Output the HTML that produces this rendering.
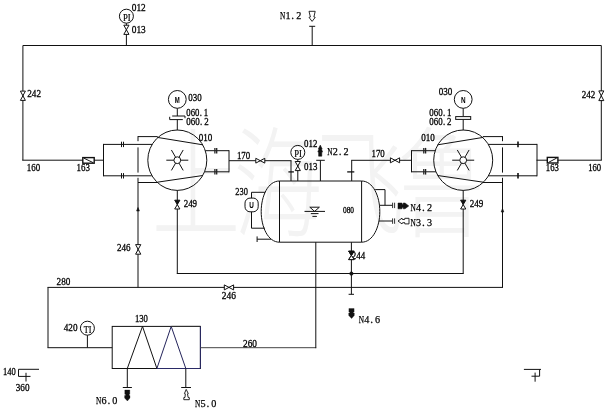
<!DOCTYPE html>
<html lang="zh"><head><meta charset="utf-8"><title>P&amp;ID</title>
<style>
html,body{margin:0;padding:0;background:#fff;}
body{width:610px;height:411px;overflow:hidden;position:relative;}
svg{position:absolute;left:0;top:0;display:block;will-change:transform;}
.wm{font-family:"Liberation Sans","Noto Sans CJK SC",sans-serif;fill:#f3f3f3;}
.t{font-family:"Liberation Serif",serif;fill:#000;stroke:#000;stroke-width:0.28;}
.n{font-family:"Liberation Serif",serif;fill:#000;stroke:#000;stroke-width:0.25;}
.i{font-family:"Liberation Serif",serif;fill:#000;stroke:#000;stroke-width:0.2;}
</style></head><body>
<svg width="610" height="411" viewBox="0 0 610 411">
<g class="wm"><text x="151.5" y="0" font-size="89" font-weight="300" textLength="335" lengthAdjust="spacing" transform="translate(0,227.8) scale(1,1.35)">上海飞鲁</text></g>
<g fill="none" stroke="#111" stroke-width="1" stroke-linecap="butt" stroke-linejoin="miter">
<line x1="22.9" y1="45.5" x2="601.3" y2="45.5"/>
<line x1="22.9" y1="45.5" x2="22.9" y2="160.2"/>
<polygon points="20.4,91.1 25.4,91.1 22.9,95.75" fill="#fff"/>
<polygon points="20.4,100.4 25.4,100.4 22.9,95.75" fill="#fff"/>
<line x1="22.2" y1="160.2" x2="103.6" y2="160.2"/>
<rect x="82.8" y="157.6" width="11.4" height="5.6" fill="#fff" stroke-width="1.4"/>
<line x1="84" y1="158.2" x2="93" y2="162.6"/>
<line x1="601.3" y1="45.5" x2="601.3" y2="160.2"/>
<polygon points="598.8,90.9 603.8,90.9 601.3,95.75" fill="#fff"/>
<polygon points="598.8,100.6 603.8,100.6 601.3,95.75" fill="#fff"/>
<line x1="601.8" y1="160.2" x2="536.5" y2="160.2"/>
<rect x="547.3" y="157.4" width="10.6" height="5.6" fill="#fff" stroke-width="1.4"/>
<line x1="548.5" y1="162.4" x2="556.8" y2="158"/>
<circle cx="126.4" cy="16.2" r="7" fill="none"/>
<line x1="126.4" y1="23.2" x2="126.4" y2="45.5"/>
<polygon points="123.80000000000001,25.2 129.0,25.2 126.4,29.799999999999997" fill="#fff"/>
<polygon points="123.80000000000001,34.4 129.0,34.4 126.4,29.799999999999997" fill="#fff"/>
<line x1="312.2" y1="26.3" x2="312.2" y2="45.5"/>
<line x1="309.2" y1="26.3" x2="315.2" y2="26.3"/>
<path d="M309,11.3 H315.2 L313.9,17 L315.2,17.4 L312.1,21.4 L309,17.4 L310.4,17 Z" fill="none" stroke-width="0.9"/>
<ellipse cx="177.3" cy="160.2" rx="29.5" ry="30.2"/>
<circle cx="177.3" cy="160.2" r="3.4" fill="none"/>
<line x1="180.7" y1="160.2" x2="188.3" y2="160.2"/>
<line x1="179.0" y1="163.14" x2="183.2" y2="170.42"/>
<line x1="175.6" y1="163.14" x2="171.4" y2="170.42"/>
<line x1="173.9" y1="160.2" x2="166.3" y2="160.2"/>
<line x1="175.6" y1="157.26" x2="171.4" y2="149.98"/>
<line x1="179.0" y1="157.26" x2="183.2" y2="149.98"/>
<line x1="157.3" y1="137.4" x2="202.8" y2="144.8"/>
<line x1="157.3" y1="182.2" x2="202.8" y2="175.5"/>
<line x1="157.7" y1="136.6" x2="138.0" y2="136.6"/>
<line x1="157.7" y1="182.5" x2="138.0" y2="182.5"/>
<line x1="138.0" y1="136.1" x2="138.0" y2="141.2"/>
<line x1="138.0" y1="147.4" x2="138.0" y2="172.6"/>
<line x1="152.3" y1="144.4" x2="103.5" y2="144.4"/>
<line x1="151.8" y1="175.8" x2="103.5" y2="175.8"/>
<line x1="103.5" y1="143.9" x2="103.5" y2="176.3"/>
<circle cx="177.3" cy="99.4" r="8.9" fill="none"/>
<line x1="177.3" y1="108.3" x2="177.3" y2="116"/>
<line x1="177.3" y1="119.6" x2="177.3" y2="130.2"/>
<line x1="205.3" y1="150.7" x2="229.0" y2="150.7"/>
<line x1="204.5" y1="171.8" x2="229.0" y2="171.8"/>
<line x1="229.0" y1="150.2" x2="229.0" y2="172.3"/>
<line x1="214.9" y1="147.89999999999998" x2="214.9" y2="153.5" stroke="#222" stroke-width="1.3"/>
<line x1="216.7" y1="147.89999999999998" x2="216.7" y2="153.5" stroke="#222" stroke-width="1.3"/>
<line x1="214.9" y1="169.0" x2="214.9" y2="174.60000000000002" stroke="#222" stroke-width="1.3"/>
<line x1="216.7" y1="169.0" x2="216.7" y2="174.60000000000002" stroke="#222" stroke-width="1.3"/>
<line x1="177.3" y1="190.3" x2="177.3" y2="273.5"/>
<polygon points="174.70000000000002,200.2 179.9,200.2 177.3,204.6" fill="#111"/>
<polygon points="174.70000000000002,209 179.9,209 177.3,204.6" fill="#fff"/>
<ellipse cx="463.2" cy="160.2" rx="29.5" ry="30.2"/>
<circle cx="463.2" cy="160.2" r="3.4" fill="none"/>
<line x1="466.6" y1="160.2" x2="474.2" y2="160.2"/>
<line x1="464.9" y1="163.14" x2="469.1" y2="170.42"/>
<line x1="461.5" y1="163.14" x2="457.3" y2="170.42"/>
<line x1="459.8" y1="160.2" x2="452.2" y2="160.2"/>
<line x1="461.5" y1="157.26" x2="457.3" y2="149.98"/>
<line x1="464.9" y1="157.26" x2="469.1" y2="149.98"/>
<line x1="483.2" y1="137.4" x2="437.7" y2="144.8"/>
<line x1="483.2" y1="182.2" x2="437.7" y2="175.5"/>
<line x1="482.8" y1="136.6" x2="502.5" y2="136.6"/>
<line x1="482.8" y1="182.5" x2="502.5" y2="182.5"/>
<line x1="502.5" y1="136.1" x2="502.5" y2="141.2"/>
<line x1="502.5" y1="147.4" x2="502.5" y2="172.6"/>
<line x1="488.2" y1="144.4" x2="537.0" y2="144.4"/>
<line x1="488.7" y1="175.8" x2="537.0" y2="175.8"/>
<line x1="537.0" y1="143.9" x2="537.0" y2="176.3"/>
<circle cx="463.2" cy="99.4" r="8.9" fill="none"/>
<line x1="463.2" y1="108.3" x2="463.2" y2="116"/>
<line x1="463.2" y1="119.6" x2="463.2" y2="130.2"/>
<line x1="435.2" y1="150.7" x2="411.5" y2="150.7"/>
<line x1="436.0" y1="171.8" x2="411.5" y2="171.8"/>
<line x1="411.5" y1="150.2" x2="411.5" y2="172.3"/>
<line x1="425.6" y1="147.89999999999998" x2="425.6" y2="153.5" stroke="#222" stroke-width="1.3"/>
<line x1="423.8" y1="147.89999999999998" x2="423.8" y2="153.5" stroke="#222" stroke-width="1.3"/>
<line x1="425.6" y1="169.0" x2="425.6" y2="174.60000000000002" stroke="#222" stroke-width="1.3"/>
<line x1="423.8" y1="169.0" x2="423.8" y2="174.60000000000002" stroke="#222" stroke-width="1.3"/>
<line x1="463.2" y1="190.3" x2="463.2" y2="273.5"/>
<polygon points="460.59999999999997,200.2 465.8,200.2 463.2,204.6" fill="#111"/>
<polygon points="460.59999999999997,209 465.8,209 463.2,204.6" fill="#fff"/>
<line x1="121.5" y1="141.70000000000002" x2="121.5" y2="147.1"/>
<line x1="123.5" y1="141.70000000000002" x2="123.5" y2="147.1"/>
<line x1="121.5" y1="173.10000000000002" x2="121.5" y2="178.5"/>
<line x1="123.5" y1="173.10000000000002" x2="123.5" y2="178.5"/>
<line x1="518" y1="141.6" x2="518" y2="147.20000000000002" stroke-width="1.6"/>
<line x1="518" y1="173.0" x2="518" y2="178.60000000000002" stroke-width="1.6"/>
<polyline points="172.2,116 185,116 185,118.2" fill="none"/>
<polyline points="169.7,116.8 169.7,119.6 182.8,119.6" fill="none"/>
<rect x="455.7" y="116.6" width="15" height="2.8" fill="#fff"/>
<line x1="138" y1="177.8" x2="138" y2="287.4"/>
<polygon points="135.6,244.6 140.79999999999998,244.6 138.2,249.39999999999998" fill="#fff"/>
<polygon points="135.6,254.2 140.79999999999998,254.2 138.2,249.39999999999998" fill="#fff"/>
<polygon points="138,207.5 136.6,211 139.4,211" fill="#111" stroke-width="0.6"/>
<line x1="502.5" y1="177.8" x2="502.5" y2="287.4"/>
<polygon points="502.5,208.5 501.2,212 503.8,212" fill="#111" stroke-width="0.6"/>
<line x1="176.8" y1="273.5" x2="463.7" y2="273.5"/>
<line x1="47.5" y1="287.4" x2="503" y2="287.4"/>
<polygon points="224.3,284.9 224.3,289.9 228.95,287.4" fill="#fff"/>
<polygon points="233.6,284.9 233.6,289.9 228.95,287.4" fill="#fff"/>
<line x1="48" y1="287.4" x2="48" y2="347.7"/>
<line x1="47.5" y1="347.7" x2="112.2" y2="347.7"/>
<circle cx="87.4" cy="328.2" r="7" fill="none"/>
<line x1="87.4" y1="335.2" x2="87.4" y2="347.7"/>
<rect x="112.2" y="326.4" width="88.2" height="42.1" fill="none"/>
<polyline points="127.3,368.5 142.5,326.4 156.9,368.5" fill="none"/>
<polyline points="156.9,368.5 171.2,326.4 185.8,368.5" fill="none" stroke="#23235a"/>
<line x1="200.4" y1="326.4" x2="200.4" y2="368.5" stroke="#2a2a66"/>
<line x1="156.9" y1="368.5" x2="200.4" y2="368.5" stroke="#2a2a66"/>
<line x1="171.2" y1="326.4" x2="200.4" y2="326.4" stroke="#333"/>
<line x1="127.3" y1="368.5" x2="127.3" y2="387.5"/>
<line x1="122.8" y1="387.5" x2="131.9" y2="387.5"/>
<line x1="185.8" y1="368.5" x2="185.8" y2="387.5"/>
<line x1="181.2" y1="387.5" x2="191" y2="387.5"/>
<path d="M124.8,390 H129.8 V394.3 H129 V395.6 H130 V398 L127.4,401 L124.6,398 V395.6 H125.6 V394.3 H124.8 Z" fill="#111" stroke-width="0.3"/>
<path d="M186.2,389.4 L188.3,393.6 L187.5,393.8 L188.1,397.4 L189.3,397.6 L189.3,399.7 H183.8 L183.8,397.6 L185,397.4 L185.3,393.8 L184.4,393.6 Z" fill="none" stroke-width="0.9"/>
<line x1="200.4" y1="347.7" x2="316.2" y2="347.7" stroke="#444"/>
<line x1="315.8" y1="242.2" x2="315.8" y2="348.2"/>
<line x1="279.5" y1="181" x2="361.6" y2="181"/>
<line x1="279.5" y1="242.2" x2="361.6" y2="242.2"/>
<line x1="279.5" y1="181" x2="279.5" y2="242.2"/>
<line x1="361.6" y1="181" x2="361.6" y2="242.2"/>
<path d="M279.5,181 C268,181 261.2,196 261.2,211.6 C261.2,227 268,242.2 279.5,242.2" fill="none"/>
<path d="M361.6,181 C373,181 379.8,196 379.8,211.6 C379.8,227 373,242.2 361.6,242.2" fill="none"/>
<polyline points="265.3,192.3 251.5,192.3 251.5,198" fill="none"/>
<polyline points="251.5,211.8 251.5,228.2 264.8,228.2" fill="none"/>
<rect x="245" y="198.1" width="13.2" height="13.7" rx="5" ry="5" fill="#fff"/>
<line x1="257.1" y1="239.2" x2="271" y2="239.2"/>
<line x1="257.1" y1="236.4" x2="257.1" y2="242"/>
<polygon points="309.8,207.2 319.4,207.2 314.6,211.4" fill="none"/>
<line x1="304.5" y1="211.4" x2="325" y2="211.4"/>
<line x1="310.8" y1="213.6" x2="318.5" y2="213.6"/>
<line x1="312.4" y1="216.4" x2="316.9" y2="216.4"/>
<line x1="229" y1="160.7" x2="291.5" y2="160.7"/>
<line x1="291" y1="160.7" x2="291" y2="181"/>
<line x1="288.4" y1="171.9" x2="293.9" y2="171.9" stroke-width="1.3"/>
<polygon points="255.8,158.29999999999998 255.8,163.1 260.3,160.7" fill="#fff"/>
<polygon points="264.8,158.29999999999998 264.8,163.1 260.3,160.7" fill="#fff"/>
<circle cx="297.8" cy="152.4" r="7" fill="none"/>
<line x1="297.8" y1="159.4" x2="297.8" y2="181"/>
<polygon points="295.2,161.5 300.40000000000003,161.5 297.8,166.05" fill="#fff"/>
<polygon points="295.2,170.6 300.40000000000003,170.6 297.8,166.05" fill="#fff"/>
<line x1="320.4" y1="160.3" x2="320.4" y2="181"/>
<line x1="316.2" y1="160.3" x2="324.8" y2="160.3"/>
<path d="M320.3,145 L322.2,149 L321.6,149.2 L322.6,152 L321.8,152.2 V156.2 H318.6 V152.2 L317.8,152 L318.9,149.2 L318.3,149 Z" fill="#111" stroke-width="0.5"/>
<line x1="351.7" y1="181" x2="351.7" y2="160.3"/>
<line x1="351.2" y1="160.3" x2="411.4" y2="160.3"/>
<line x1="347.2" y1="171.9" x2="354.3" y2="171.9" stroke-width="1.3"/>
<polygon points="390.4,157.8 390.4,162.8 395.0,160.3" fill="#fff"/>
<polygon points="399.6,157.8 399.6,162.8 395.0,160.3" fill="#fff"/>
<polyline points="375.2,189.6 385,189.6 385,205.3" fill="none"/>
<line x1="379.5" y1="205.3" x2="393" y2="205.3"/>
<line x1="379" y1="221" x2="393" y2="221"/>
<line x1="392.6" y1="202.70000000000002" x2="392.6" y2="208.10000000000002" stroke="#333"/>
<line x1="394.6" y1="202.70000000000002" x2="394.6" y2="208.10000000000002" stroke="#333"/>
<line x1="392.6" y1="218.4" x2="392.6" y2="223.8" stroke="#333"/>
<line x1="394.6" y1="218.4" x2="394.6" y2="223.8" stroke="#333"/>
<path d="M398,203 H402 V204.2 H403.2 V203 H405 L408.8,205.9 L405,208.8 H403.2 V207.6 H402 V208.8 H398 Z" fill="#111" stroke-width="0.5"/>
<path d="M398,221 L402,218.2 L402.3,219.4 L404.6,219.6 L404.8,218.3 H409 V223.9 H404.8 L404.6,222.5 L402.3,222.9 L402,223.9 Z" fill="none" stroke-width="0.9"/>
<line x1="351.4" y1="242.2" x2="351.4" y2="294.3"/>
<polygon points="348.65,251.2 354.15,251.2 351.4,255.4" fill="#111"/>
<polygon points="348.65,259.6 354.15,259.6 351.4,255.4" fill="#fff"/>
<circle cx="351.4" cy="273.6" r="1.6" fill="#111"/>
<line x1="348.6" y1="294.3" x2="354" y2="294.3"/>
<path d="M348.9,308.5 H354.1 V312 H353.3 V313 H354.3 V315.4 L351.6,318.6 L348.7,315.4 V313 H349.7 V312 H348.9 Z" fill="#111" stroke-width="0.3"/>
<polyline points="39,369.3 18.5,369.3 18.5,376.4 30.5,376.4" fill="none"/>
<line x1="26" y1="372.8" x2="26" y2="381.5"/>
<polyline points="523.9,369.4 541,369.4" fill="none"/>
<polyline points="539.6,369.4 539.6,376.2 531.5,376.2" fill="none"/>
<line x1="535.1" y1="372.6" x2="535.1" y2="381.7"/>
<text class="t" transform="translate(131.8,11.4) scale(0.933,1)" x="0 5 10" y="0" font-size="10">012</text>
<text class="t" transform="translate(131.8,32.6) scale(0.933,1)" x="0 5 10" y="0" font-size="10">013</text>
<text class="t" transform="translate(27.2,96.9) scale(0.92,1)" x="0 5 10" y="0" font-size="10">242</text>
<text class="t" transform="translate(26.8,171.1) scale(0.893,1)" x="0 5 10" y="0" font-size="10">160</text>
<text class="t" transform="translate(76.5,171.1) scale(0.893,1)" x="0 5 10" y="0" font-size="10">163</text>
<text class="t" transform="translate(188.3,101.2) scale(0.893,1)" x="0 5 10" y="0" font-size="10">030</text>
<text class="t" transform="translate(186.3,116.3) scale(0.872,1)" x="0 5 10 15.4 20" y="0" font-size="10">060.1</text>
<text class="t" transform="translate(186.3,124.7) scale(0.896,1)" x="0 5 10 15.4 20" y="0" font-size="10">060.2</text>
<text class="t" transform="translate(198.7,140.6) scale(0.907,1)" x="0 5 10" y="0" font-size="10">010</text>
<text class="t" transform="translate(183.7,207.4) scale(0.893,1)" x="0 5 10" y="0" font-size="10">249</text>
<text class="t" transform="translate(117,250.8) scale(0.907,1)" x="0 5 10" y="0" font-size="10">246</text>
<text class="t" transform="translate(56.6,284.7) scale(0.92,1)" x="0 5 10" y="0" font-size="10">280</text>
<text class="t" transform="translate(63.7,330.5) scale(0.92,1)" x="0 5 10" y="0" font-size="10">420</text>
<text class="t" transform="translate(3,374.7) scale(0.853,1)" x="0 5 10" y="0" font-size="10">140</text>
<text class="t" transform="translate(15.7,391.4) scale(0.92,1)" x="0 5 10" y="0" font-size="10">360</text>
<text class="t" transform="translate(134.9,322.1) scale(0.867,1)" x="0 5 10" y="0" font-size="10">130</text>
<text class="t" transform="translate(221.8,298.7) scale(0.947,1)" x="0 5 10" y="0" font-size="10">246</text>
<text class="t" transform="translate(243,346.6) scale(0.933,1)" x="0 5 10" y="0" font-size="10">260</text>
<text class="t" transform="translate(235.3,195.4) scale(0.84,1)" x="0 5 10" y="0" font-size="10">230</text>
<text class="t" transform="translate(236.9,158.6) scale(0.887,1)" x="0 5 10" y="0" font-size="10">170</text>
<text class="t" transform="translate(304.1,147.1) scale(0.887,1)" x="0 5 10" y="0" font-size="10">012</text>
<text class="t" transform="translate(304.1,169.5) scale(0.887,1)" x="0 5 10" y="0" font-size="10">013</text>
<text class="t" transform="translate(371.5,157) scale(0.887,1)" x="0 5 10" y="0" font-size="10">170</text>
<text class="t" transform="translate(343,213.1) scale(0.917,1)" x="0 4 8" y="0" font-size="8">080</text>
<text class="t" transform="translate(351.8,258.7) scale(0.893,1)" x="0 5 10" y="0" font-size="10">244</text>
<text class="t" transform="translate(438.8,94.9) scale(0.907,1)" x="0 5 10" y="0" font-size="10">030</text>
<text class="t" transform="translate(429.3,115.6) scale(0.888,1)" x="0 5 10 15.4 20" y="0" font-size="10">060.1</text>
<text class="t" transform="translate(429.3,125.1) scale(0.888,1)" x="0 5 10 15.4 20" y="0" font-size="10">060.2</text>
<text class="t" transform="translate(421.2,140.6) scale(0.907,1)" x="0 5 10" y="0" font-size="10">010</text>
<text class="t" transform="translate(469.7,207.4) scale(0.907,1)" x="0 5 10" y="0" font-size="10">249</text>
<text class="t" transform="translate(545.8,171.4) scale(0.873,1)" x="0 5 10" y="0" font-size="10">163</text>
<text class="t" transform="translate(588.2,171.4) scale(0.867,1)" x="0 5 10" y="0" font-size="10">160</text>
<text class="t" transform="translate(581.7,98) scale(0.907,1)" x="0 5 10" y="0" font-size="10">242</text>
<text class="n" x="279.9" y="18.6" font-size="11.4" textLength="5.3" lengthAdjust="spacingAndGlyphs">N</text>
<text class="n" x="285.4" y="18.6" font-size="11.4" textLength="5.1" lengthAdjust="spacingAndGlyphs">1</text>
<text class="n" x="291.3" y="18.6" font-size="11.4">.</text>
<text class="n" x="296.2" y="18.6" font-size="11.4" textLength="5.1" lengthAdjust="spacingAndGlyphs">2</text>
<text class="n" x="327.3" y="154.6" font-size="11.4" textLength="5.3" lengthAdjust="spacingAndGlyphs">N</text>
<text class="n" x="332.8" y="154.6" font-size="11.4" textLength="5.1" lengthAdjust="spacingAndGlyphs">2</text>
<text class="n" x="338.7" y="154.6" font-size="11.4">.</text>
<text class="n" x="343.6" y="154.6" font-size="11.4" textLength="5.1" lengthAdjust="spacingAndGlyphs">2</text>
<text class="n" x="410.6" y="210.6" font-size="11.4" textLength="5.3" lengthAdjust="spacingAndGlyphs">N</text>
<text class="n" x="416.1" y="210.6" font-size="11.4" textLength="5.1" lengthAdjust="spacingAndGlyphs">4</text>
<text class="n" x="422.0" y="210.6" font-size="11.4">.</text>
<text class="n" x="426.9" y="210.6" font-size="11.4" textLength="5.1" lengthAdjust="spacingAndGlyphs">2</text>
<text class="n" x="410.6" y="225.6" font-size="11.4" textLength="5.3" lengthAdjust="spacingAndGlyphs">N</text>
<text class="n" x="416.1" y="225.6" font-size="11.4" textLength="5.1" lengthAdjust="spacingAndGlyphs">3</text>
<text class="n" x="422.0" y="225.6" font-size="11.4">.</text>
<text class="n" x="426.9" y="225.6" font-size="11.4" textLength="5.1" lengthAdjust="spacingAndGlyphs">3</text>
<text class="n" x="358.8" y="323.3" font-size="11.4" textLength="5.3" lengthAdjust="spacingAndGlyphs">N</text>
<text class="n" x="364.3" y="323.3" font-size="11.4" textLength="5.1" lengthAdjust="spacingAndGlyphs">4</text>
<text class="n" x="370.2" y="323.3" font-size="11.4">.</text>
<text class="n" x="375.1" y="323.3" font-size="11.4" textLength="5.1" lengthAdjust="spacingAndGlyphs">6</text>
<text class="n" x="96" y="404.3" font-size="11.4" textLength="5.3" lengthAdjust="spacingAndGlyphs">N</text>
<text class="n" x="101.5" y="404.3" font-size="11.4" textLength="5.1" lengthAdjust="spacingAndGlyphs">6</text>
<text class="n" x="107.4" y="404.3" font-size="11.4">.</text>
<text class="n" x="112.3" y="404.3" font-size="11.4" textLength="5.1" lengthAdjust="spacingAndGlyphs">0</text>
<text class="n" x="195" y="406.8" font-size="11.4" textLength="5.3" lengthAdjust="spacingAndGlyphs">N</text>
<text class="n" x="200.5" y="406.8" font-size="11.4" textLength="5.1" lengthAdjust="spacingAndGlyphs">5</text>
<text class="n" x="206.4" y="406.8" font-size="11.4">.</text>
<text class="n" x="211.3" y="406.8" font-size="11.4" textLength="5.1" lengthAdjust="spacingAndGlyphs">0</text>
<text class="i" x="122.9" y="20.6" font-size="9.5" textLength="7.7" lengthAdjust="spacingAndGlyphs">PI</text>
<text class="i" x="294.3" y="156.8" font-size="9.5" textLength="7.7" lengthAdjust="spacingAndGlyphs">PI</text>
<text class="i" x="83.7" y="332.6" font-size="9.5" textLength="7.7" lengthAdjust="spacingAndGlyphs">TI</text>
<text class="i" x="174.8" y="102.8" font-size="8.2" textLength="5" lengthAdjust="spacingAndGlyphs" style="font-family:&quot;Liberation Sans&quot;,sans-serif;font-weight:bold;stroke:none">M</text>
<text class="i" x="460.9" y="102.8" font-size="8.2" textLength="4.6" lengthAdjust="spacingAndGlyphs" style="font-family:&quot;Liberation Sans&quot;,sans-serif;font-weight:bold;stroke:none">N</text>
<text class="i" x="249.3" y="208.2" font-size="8.2" textLength="4.6" lengthAdjust="spacingAndGlyphs" style="font-family:&quot;Liberation Sans&quot;,sans-serif;font-weight:bold;stroke:none">U</text>
<polygon points="348.65,251.2 354.15,251.2 351.4,255.4" fill="#111"/>
<polygon points="348.65,259.6 354.15,259.6 351.4,255.4" fill="#fff"/>
</g>
</svg>
</body></html>
